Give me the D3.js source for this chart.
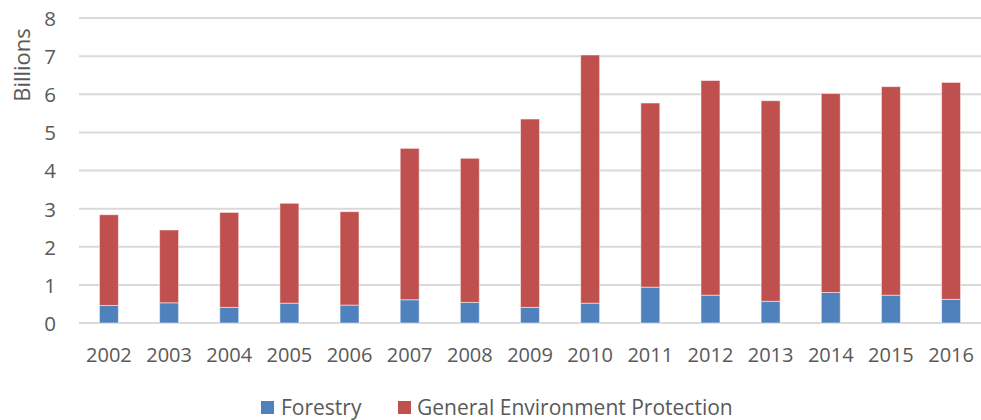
<!DOCTYPE html>
<html><head><meta charset="utf-8">
<script src="https://cdn.jsdelivr.net/npm/d3@7"></script>
<style>body{margin:0;background:#fff}svg{display:block}text{font-family:"Open Sans",sans-serif;fill:#595959}</style>
</head><body><svg id="c" width="981" height="420"></svg>
<script>
const years = ["2002","2003","2004","2005","2006","2007","2008","2009","2010","2011","2012","2013","2014","2015","2016"];
const forestry = [0.46,0.53,0.41,0.52,0.47,0.61,0.54,0.41,0.52,0.94,0.73,0.57,0.80,0.73,0.62];
const generalEnv = [2.38,1.91,2.49,2.62,2.45,3.97,3.78,4.94,6.51,4.83,5.63,5.26,5.22,5.47,5.69];
const yTicks = [0,1,2,3,4,5,6,7,8];
const seriesNames = ["Forestry","General Environment Protection"];
const colors = ["#4F81BD","#C0504D"];

const svg = d3.select("#c");
const m = {l:79, r:0, t:18, b:97};
const W = 981, H = 420;
const x = d3.scaleBand().domain(years).range([m.l, W - m.r]).paddingInner(0.685).paddingOuter(0.34);
const y = d3.scaleLinear().domain([0,8]).range([H - m.b, m.t]);

// grid
svg.append("g").selectAll("line").data(yTicks).join("line")
  .attr("x1", m.l).attr("x2", W).attr("y1", d=>y(d)).attr("y2", d=>y(d))
  .attr("stroke", "#D9D9D9").attr("stroke-width", 2);

// y labels
const yAxis = d3.axisLeft(y).tickValues(yTicks).tickSize(0).tickPadding(0);
const ya = svg.append("g").attr("transform", `translate(56,0)`).call(yAxis);
ya.select(".domain").remove();
ya.selectAll("text").style("font-size","20.5px").attr("fill","#595959").attr("dy","0.36em");

svg.append("text").attr("transform","translate(30,65) rotate(-90)")
  .attr("text-anchor","middle").style("font-size","22px").text("Billions");

// stacked data
const rows = years.map((yr,i)=>({year:yr, f:forestry[i], g:generalEnv[i]}));
const stack = d3.stack().keys(["f","g"])(rows);
svg.append("g").selectAll("g").data(stack).join("g")
  .attr("fill",(d,i)=>colors[i])
  .selectAll("rect").data(d=>d).join("rect")
  .attr("x", d=>x(d.data.year)).attr("width", x.bandwidth())
  .attr("y", d=>y(d[1])).attr("height", d=>y(d[0])-y(d[1]))
  .attr("stroke","#ffffff").attr("stroke-opacity",0.5).attr("stroke-width",1);

// x labels
const xAxis = d3.axisBottom(x).tickSize(0).tickPadding(0);
const xa = svg.append("g").attr("transform",`translate(0,${y(0)+31.5})`).call(xAxis);
xa.select(".domain").remove();
xa.selectAll("text").style("font-size","20px").attr("fill","#595959").attr("dy","0.36em");

// legend
const leg = [{x:261, tx:281},{x:398, tx:417}];
const lg = svg.append("g");
seriesNames.forEach((n,i)=>{
  lg.append("rect").attr("x",leg[i].x).attr("y",401).attr("width",13).attr("height",13).attr("fill",colors[i]);
  lg.append("text").attr("x",leg[i].tx).attr("y",415).style("font-size","21px").text(n);
});
</script></body></html>
